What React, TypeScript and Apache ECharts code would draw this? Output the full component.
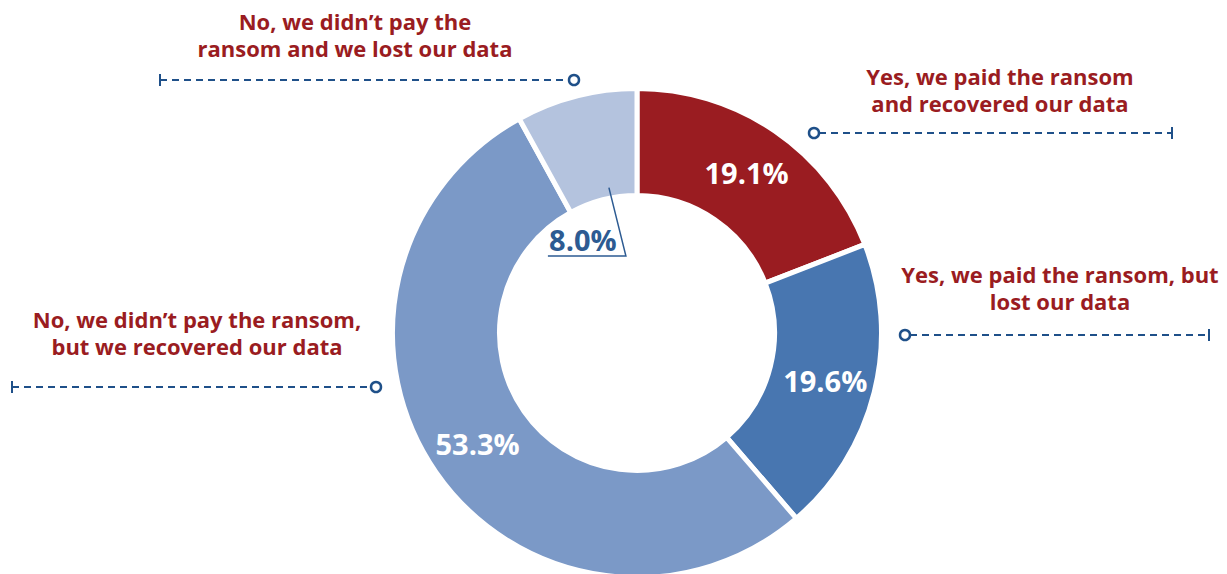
import React, { useEffect, useRef } from "react";
import * as echarts from "echarts";

const categories = [
  "Yes, we paid the ransom and recovered our data",
  "Yes, we paid the ransom, but lost our data",
  "No, we didn’t pay the ransom, but we recovered our data",
  "No, we didn’t pay the ransom and we lost our data",
];
const values = [19.1, 19.6, 53.3, 8.0];
const valueLabels = ["19.1%", "19.6%", "53.3%", "8.0%"];
const annotationLines = [
  ["Yes, we paid the ransom", "and recovered our data"],
  ["Yes, we paid the ransom, but", "lost our data"],
  ["No, we didn’t pay the ransom,", "but we recovered our data"],
  ["No, we didn’t pay the", "ransom and we lost our data"],
];
const sliceColors = ["#9A1C21", "#4876B0", "#7B99C7", "#B4C3DE"];

const RED = "#9A1C21";
const NAVY = "#1F5089";
const LABEL_BLUE = "#2D5B92";
const FONT = "Open Sans";

const CX = 637;
const CY = 333;
const BORDER = 5;
const R_IN = 140 - BORDER / 2;
const R_OUT = 242 + BORDER / 2;

// annotation layout: text centre x, first line y, dashed line y, circle x, tick x
const annLayout = [
  { tx: 1000, ty: 76, ly: 133, cx: 814, kx: 1172 },
  { tx: 1060, ty: 274, ly: 335, cx: 905, kx: 1209 },
  { tx: 197, ty: 319, ly: 387, cx: 376, kx: 12 },
  { tx: 355, ty: 21, ly: 80, cx: 574, kx: 160 },
];

export default function App() {
  const ref = useRef<HTMLDivElement>(null);
  useEffect(() => {
    document.body.style.margin = "0";
    const chart = echarts.init(ref.current!, null, { renderer: "svg" });
    const total = values.reduce((a, b) => a + b, 0);
    const smallIdx = 3;
    const startFrac = values.slice(0, smallIdx).reduce((a, b) => a + b, 0) / total;
    const frac = startFrac + (values[smallIdx] / total) * 0.62;
    const ang = frac * 2 * Math.PI;
    const r0 = 140 + 8;
    const p0 = [CX + r0 * Math.sin(ang), CY - r0 * Math.cos(ang)];
    const p1 = [p0[0] + 17, CY - 77];
    const p2 = [p1[0] - 78, p1[1]];

    const graphics: any[] = [];
    annLayout.forEach((a, i) => {
      annotationLines[i].forEach((line, j) => {
        graphics.push({
          type: "text",
          x: a.tx,
          y: a.ty + j * 26.5,
          style: {
            text: line,
            fill: RED,
            font: `bold 22px "${FONT}"`,
            textAlign: "center",
            textVerticalAlign: "middle",
          },
        });
      });
      const left = a.cx < a.kx;
      graphics.push({
        type: "line",
        shape: {
          x1: left ? a.cx + 5 : a.kx,
          y1: a.ly,
          x2: left ? a.kx : a.cx - 5,
          y2: a.ly,
        },
        style: { stroke: NAVY, lineWidth: 2, lineDash: [7, 5] },
      });
      graphics.push({
        type: "line",
        shape: { x1: a.kx, y1: a.ly - 6, x2: a.kx, y2: a.ly + 6 },
        style: { stroke: NAVY, lineWidth: 2 },
      });
      graphics.push({
        type: "circle",
        shape: { cx: a.cx, cy: a.ly, r: 5 },
        style: { fill: "#fff", stroke: NAVY, lineWidth: 2.5 },
        z: 10,
      });
    });
    graphics.push({
      type: "polyline",
      shape: { points: [p0, p1, p2] },
      style: { stroke: LABEL_BLUE, lineWidth: 1.5, fill: null },
      z: 10,
    });

    chart.setOption({
      animation: false,
      series: [
        {
          type: "pie",
          center: [CX, CY],
          radius: [R_IN, R_OUT],
          startAngle: 90,
          clockwise: true,
          silent: true,
          itemStyle: { borderColor: "#fff", borderWidth: BORDER },
          labelLine: { show: false },
          label: {
            show: true,
            position: "inside",
            formatter: (p: any) => valueLabels[p.dataIndex],
            color: "#fff",
            fontFamily: FONT,
            fontWeight: "bold",
            fontSize: 29,
          },
          labelLayout: (params: any) => {
            if (params.dataIndex === smallIdx) {
              return { x: p2[0] + 35, y: p1[1] - 17, align: "center", verticalAlign: "middle" };
            }
            return {};
          },
          data: categories.map((c, i) => ({
            name: c,
            value: values[i],
            itemStyle: { color: sliceColors[i] },
            label: i === smallIdx ? { color: LABEL_BLUE } : undefined,
          })),
        },
      ],
      graphic: graphics,
    });
    return () => chart.dispose();
  }, []);
  return <div ref={ref} style={{ width: 1227, height: 574 }} />;
}
